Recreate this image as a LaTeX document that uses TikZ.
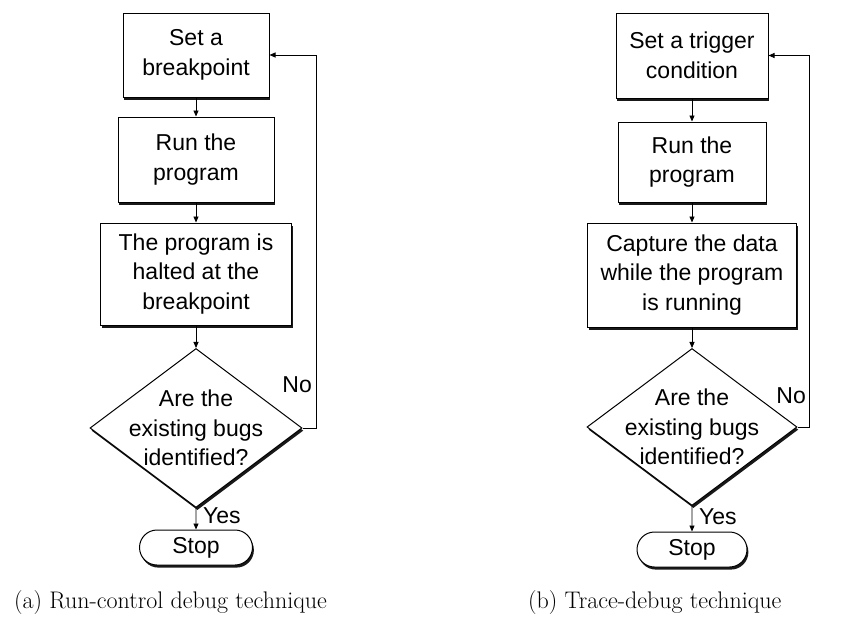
\documentclass[tikz,border=0pt]{standalone}
\usepackage{fontspec}
\newfontfamily\flowfont{Liberation Sans}
\usetikzlibrary{shapes.geometric,shapes.misc,arrows.meta,shadows}
\begin{document}
\begin{tikzpicture}[x=1pt,y=-1pt,
  every node/.style={inner sep=0pt},
  txt/.style={font=\flowfont\fontsize{23}{29.5}\selectfont, align=center},
  shade3d/.style={drop shadow={shadow xshift=1.4pt, shadow yshift=-2.6pt, fill=black, opacity=0.9}},
  box/.style={txt, draw, line width=1pt, fill=white, shade3d},
  decision/.style={diamond, draw, line width=1pt, fill=white, shade3d},
  terminal/.style={txt, rounded rectangle, draw, line width=1pt, fill=white, shade3d},
  flow/.style={line width=0.9pt, -{Triangle[length=6pt,width=5pt]}},
  caption/.style={font=\rmfamily\fontsize{24}{28}\selectfont}]
\useasboundingbox (0,0) rectangle (851,624);

% ---- (a) run-control flow ----
\node[box, minimum width=146, minimum height=84] (a1) at (196,55) {Set a\\breakpoint};
\node[box, minimum width=156, minimum height=85] (a2) at (196,159.5) {Run the\\program};
\node[box, minimum width=191, minimum height=102] (a3) at (196,274) {The program is\\halted at the\\breakpoint};
\node[decision, minimum width=212, minimum height=159] (ad) at (196,428) {};
\node[txt] (adt) at (196,428) {Are the\\existing bugs\\identified?};
\node[terminal, minimum width=113, minimum height=35] (as) at (196,547.5) {Stop};
\coordinate (aloop) at (316,428);

\draw[flow] (a1) -- (a2);
\draw[flow] (a2) -- (a3);
\draw[flow] (a3) -- (ad);
\draw[flow] (ad) -- (as);
\draw[flow] (ad.east) -- (aloop) |- (a1.east);
\node[txt, anchor=east] (ano) at (312,385) {No};
\node[txt, anchor=west] (ayes) at (203,516) {Yes};

% ---- (b) trace-debug flow ----
\node[box, minimum width=152, minimum height=85] (b1) at (692,55.5) {Set a trigger\\condition};
\node[box, minimum width=148, minimum height=80] (b2) at (692,162) {Run the\\program};
\node[box, minimum width=209, minimum height=104] (b3) at (692,275) {Capture the data\\while the program\\is running};
\node[decision, minimum width=210, minimum height=157] (bd) at (692,427) {};
\node[txt] (bdt) at (692,427) {Are the\\existing bugs\\identified?};
\node[terminal, minimum width=110, minimum height=35] (bs) at (692,549.5) {Stop};
\coordinate (bloop) at (809,427);

\draw[flow] (b1) -- (b2);
\draw[flow] (b2) -- (b3);
\draw[flow] (b3) -- (bd);
\draw[flow] (bd) -- (bs);
\draw[flow] (bd.east) -- (bloop) |- (b1.east);
\node[txt, anchor=east] (bno) at (806,396) {No};
\node[txt, anchor=west] (byes) at (699,517) {Yes};

% ---- captions ----
\node[caption, anchor=base west] (capa) at (14,608) {(a) Run-control debug technique};
\node[caption, anchor=base west] (capb) at (528,608) {(b) Trace-debug technique};
\end{tikzpicture}
\end{document}
